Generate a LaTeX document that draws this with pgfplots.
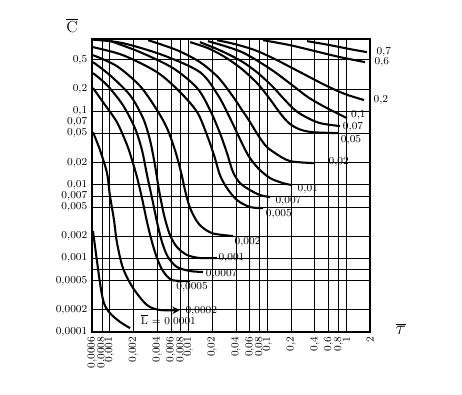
\documentclass[border=0pt]{standalone}
\usepackage{pgfplots}
\pgfplotsset{compat=1.18}
\begin{document}
\begin{tikzpicture}[x=1pt,y=1pt,
  curve/.style={black, line width=1.55pt, smooth, tension=0.5, mark=none},
  lab/.style={font=\footnotesize, inner sep=1pt}]
\useasboundingbox (-69,-47.25) rectangle (277.5,249);
\begin{axis}[
  at={(0,0)}, anchor=south west,
  scale only axis, width=208.5pt, height=219.75pt,
  xmode=log, ymode=log,
  xmin=0.0006, xmax=2, ymin=0.0001, ymax=0.95,
  axis line style={line width=0.9pt},
  grid=major, major grid style={black, line width=0.5pt},
  major tick length=0pt, minor tick length=0pt,
  xtick={0.0006,0.0008,0.001,0.002,0.004,0.006,0.008,0.01,0.02,0.04,0.06,0.08,0.1,0.2,0.4,0.6,0.8,1,2},
  xticklabels={{0,0006},{0,0008},{0,001},{0,002},{0,004},{0,006},{0,008},{0,01},{0,02},{0,04},{0,06},{0,08},{0,1},{0,2},{0,4},{0,6},{0,8},{1},{2}},
  x tick label style={rotate=90, anchor=east, font=\footnotesize},
  ytick={0.0001,0.0002,0.0005,0.0007,0.001,0.002,0.005,0.007,0.01,0.02,0.05,0.1,0.2,0.5},
  yticklabels={{0,0001},{0,0002},{0,0005},{},{0,001},{0,002},{0,005},{0,007},{0,01},{0,02},{0,05},{0,1},{0,2},{0,5}},
  extra y ticks={0.07}, extra y tick labels={0{,}07},
  extra y tick style={grid=none},
  y tick label style={font=\footnotesize},
  clip=false,
]
% L = 0.0001
\addplot[curve] coordinates {(0.000618,0.00235) (0.000758,0.000462) (0.000851,0.000247) (0.00101,0.000181) (0.00136,0.000137) (0.00182,0.000113)};
% L = 0.0002
\addplot[curve,-stealth] coordinates {(0.000618,0.0517) (0.000758,0.0295) (0.00093,0.0144) (0.00101,0.00723) (0.00114,0.00331) (0.00124,0.00166) (0.00148,0.000739) (0.00199,0.000395) (0.00299,0.000232) (0.00437,0.000199) (0.00782,0.000199)};
% L = 0.0005
\addplot[curve] coordinates {(0.000618,0.205) (0.000827,0.132) (0.00124,0.0707) (0.00167,0.0345) (0.00193,0.0216) (0.00223,0.0127) (0.00258,0.00658) (0.00299,0.00311) (0.00346,0.00166) (0.00400,0.00101) (0.00476,0.000673) (0.00620,0.000508) (0.0105,0.000492)};
% L = 0.0007
\addplot[curve] coordinates {(0.000618,0.327) (0.000930,0.225) (0.00148,0.120) (0.00210,0.0586) (0.00258,0.0295) (0.00299,0.0135) (0.00346,0.00658) (0.00400,0.00311) (0.00463,0.00166) (0.00551,0.00104) (0.00717,0.000762) (0.0105,0.000673) (0.0153,0.000652)};
% L = 0.001
\addplot[curve] coordinates {(0.000618,0.461) (0.00101,0.307) (0.00182,0.164) (0.00266,0.0801) (0.00326,0.0403) (0.00377,0.0184) (0.00424,0.00845) (0.00491,0.00387) (0.00584,0.00207) (0.00717,0.00142) (0.00960,0.00111) (0.0140,0.00101) (0.0230,0.00101)};
% L = 0.002
\addplot[curve] coordinates {(0.000618,0.573) (0.00124,0.407) (0.00244,0.218) (0.00400,0.103) (0.00535,0.0586) (0.00676,0.0295) (0.00806,0.0148) (0.00905,0.00845) (0.0105,0.00481) (0.0136,0.00292) (0.0199,0.00220) (0.0368,0.00201)};
% L = 0.005
\addplot[curve] coordinates {(0.000618,0.736) (0.00148,0.573) (0.00400,0.337) (0.00782,0.181) (0.0129,0.0966) (0.0172,0.0471) (0.0211,0.0252) (0.0251,0.0135) (0.0308,0.00899) (0.0413,0.00618) (0.0604,0.00497) (0.0882,0.00481)};
% L = 0.007
\addplot[curve] coordinates {(0.000957,0.916) (0.00244,0.630) (0.00638,0.382) (0.0129,0.205) (0.0188,0.103) (0.0251,0.0501) (0.0308,0.0269) (0.0368,0.0148) (0.0451,0.0105) (0.0604,0.00845) (0.0808,0.00723) (0.108,0.00679)};
% L = 0.01
\addplot[curve] coordinates {(0.000618,0.93) (0.00148,0.834) (0.00476,0.573) (0.0140,0.337) (0.0237,0.164) (0.0337,0.0801) (0.0438,0.0443) (0.0570,0.0252) (0.0762,0.0168) (0.108,0.0123) (0.158,0.0105) (0.206,0.00988)};
% L = 0.02
\addplot[curve] coordinates {(0.00308,0.916) (0.00717,0.670) (0.0140,0.461) (0.0237,0.288) (0.0357,0.164) (0.0478,0.103) (0.0604,0.0707) (0.0762,0.0471) (0.0963,0.0334) (0.125,0.0269) (0.194,0.0209) (0.402,0.0196)};
% L = 0.05
\addplot[curve] coordinates {(0.0105,0.861) (0.0177,0.714) (0.0291,0.539) (0.0478,0.370) (0.0762,0.232) (0.108,0.145) (0.145,0.0937) (0.188,0.0685) (0.252,0.0568) (0.369,0.0517) (0.787,0.0501)};
% L = 0.07
\addplot[curve] coordinates {(0.0140,0.861) (0.0217,0.714) (0.0318,0.592) (0.0492,0.461) (0.0762,0.327) (0.115,0.218) (0.163,0.145) (0.224,0.103) (0.309,0.0827) (0.465,0.0685) (0.834,0.0624)};
% L = 0.1
\addplot[curve] coordinates {(0.0177,0.888) (0.0291,0.760) (0.0478,0.630) (0.0762,0.476) (0.125,0.337) (0.206,0.225) (0.328,0.154) (0.539,0.113) (1.02,0.0801)};
% L = 0.2
\addplot[curve] coordinates {(0.0230,0.916) (0.0390,0.809) (0.0698,0.670) (0.125,0.506) (0.260,0.337) (0.539,0.225) (0.965,0.170) (1.68,0.141)};
% L = 0.6
\addplot[curve] coordinates {(0.0882,0.916) (0.194,0.784) (0.402,0.650) (0.834,0.539) (1.73,0.461)};
% L = 0.7
\addplot[curve] coordinates {(0.319,0.888) (0.623,0.784) (1.12,0.692) (1.83,0.630)};

\node[lab, anchor=west, xshift=6pt] at (axis cs:1.83,0.630) {0,7};
\node[lab, anchor=west, xshift=6pt] at (axis cs:1.73,0.461) {0,6};
\node[lab, anchor=west, xshift=6pt] at (axis cs:1.68,0.141) {0,2};
\node[lab, anchor=west, xshift=2pt, yshift=2.5pt] at (axis cs:1.02,0.0801) {0,1};
\node[lab, anchor=west, xshift=1pt, yshift=-0.5pt] at (axis cs:0.834,0.0624) {0,07};
\node[lab, anchor=west, xshift=1pt, yshift=-5pt] at (axis cs:0.787,0.0501) {0,05};
\node[lab, anchor=west, xshift=9pt, yshift=1pt] at (axis cs:0.402,0.0196) {0,02};
\node[lab, anchor=west, xshift=3pt, yshift=-3pt] at (axis cs:0.206,0.00988) {0,01};
\node[lab, anchor=west, xshift=3pt, yshift=-3pt] at (axis cs:0.108,0.00679) {0,007};
\node[lab, anchor=west, xshift=1pt, yshift=-4.5pt] at (axis cs:0.0882,0.00481) {0,005};
\node[lab, anchor=west, xshift=0pt, yshift=-4.5pt] at (axis cs:0.0368,0.00201) {0,002};
\node[lab, anchor=west, xshift=0pt] at (axis cs:0.0230,0.00101) {0,001};
\node[lab, anchor=west, xshift=1pt, yshift=-1.5pt] at (axis cs:0.0153,0.000652) {0,0007};
\node[lab, anchor=north, xshift=1.5pt] at (axis cs:0.0105,0.000492) {0,0005};
\node[lab, anchor=west, xshift=3pt, yshift=-1pt] at (axis cs:0.00782,0.000199) {0,0002};
\node[lab, anchor=west, xshift=7pt, yshift=6pt] at (axis cs:0.00182,0.000113) {$\overline{\mathrm{L}}$ = 0,0001};
\end{axis}
\node[font=\large] at (-15,230) {$\overline{\mathrm{C}}$};
\node[font=\Large] at (231.5,2) {$\overline{\tau}$};
\end{tikzpicture}
\end{document}
